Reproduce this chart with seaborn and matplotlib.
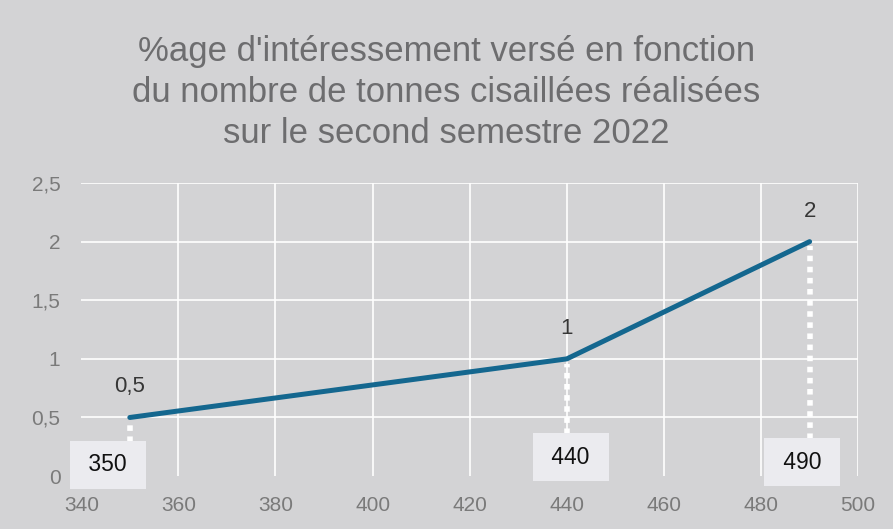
import numpy as np
import pandas as pd
import matplotlib
matplotlib.use("Agg")
import matplotlib.pyplot as plt
import seaborn as sns
from matplotlib.ticker import FuncFormatter

# --- Data ---
tonnes = [350, 440, 490]
pct = [0.5, 1, 2]
point_labels = ["0,5", "1", "2"]
box_labels = ["350", "440", "490"]
box_x = [345.5, 440.8, 488.5]
box_y = [0.095, 0.16, 0.12]

df = pd.DataFrame({"tonnes": tonnes, "pct": pct})

# --- Style ---
bg = "#d3d3d5"
sns.set_theme(style="whitegrid", rc={
    "figure.facecolor": bg,
    "axes.facecolor": bg,
    "grid.color": "white",
    "grid.linewidth": 1.2,
})
plt.rcParams["font.family"] = ["Liberation Sans", "DejaVu Sans"]

fig = plt.figure(figsize=(8.93, 5.29), dpi=100)
ax = fig.add_axes([0.091, 0.10, 0.870, 0.554])

sns.lineplot(data=df, x="tonnes", y="pct", ax=ax, color="#14678f", linewidth=3.6, zorder=5)

ax.set_xlim(340, 500)
ax.set_ylim(0, 2.5)
ax.set_xticks(np.arange(340, 501, 20))
ax.set_yticks(np.arange(0, 2.51, 0.5))
ax.yaxis.set_major_formatter(FuncFormatter(lambda v, p: f"{v:g}".replace(".", ",")))
ax.tick_params(axis="both", labelsize=15, colors="#7a7a7a", length=0)
ax.tick_params(axis="y", pad=15)
ax.tick_params(axis="x", pad=14)
ax.set_xlabel("")
ax.set_ylabel("")
for s in ax.spines.values():
    s.set_visible(False)
ax.grid(True)
ax.xaxis.get_gridlines()[0].set_visible(False)
ax.yaxis.get_gridlines()[0].set_visible(False)

# --- Drop lines, value labels and boxed x labels ---
for x, y, lab, bx, by, blab in zip(tonnes, pct, point_labels, box_x, box_y, box_labels):
    ax.plot([x, x], [by + 0.2, y - 0.04], color="white", linestyle=(0, (1, 1)),
            linewidth=4, zorder=2)
    ax.annotate(lab, (x, y), xytext=(0, 22), textcoords="offset points",
                ha="center", va="center", fontsize=16, color="#363636")
    ax.text(bx, by, f" {blab} ", ha="center", va="center", fontsize=16.5, color="#111111", zorder=4,
            bbox=dict(boxstyle="square,pad=0.55", facecolor="#ebebef", edgecolor="none"))

fig.suptitle("%age d'intéressement versé en fonction\ndu nombre de tonnes cisaillées réalisées\nsur le second semestre 2022",
             y=0.933, fontsize=25, color="#6d6d6f", linespacing=1.29, va="top")

fig.savefig("out.png", dpi=100, facecolor=bg)
